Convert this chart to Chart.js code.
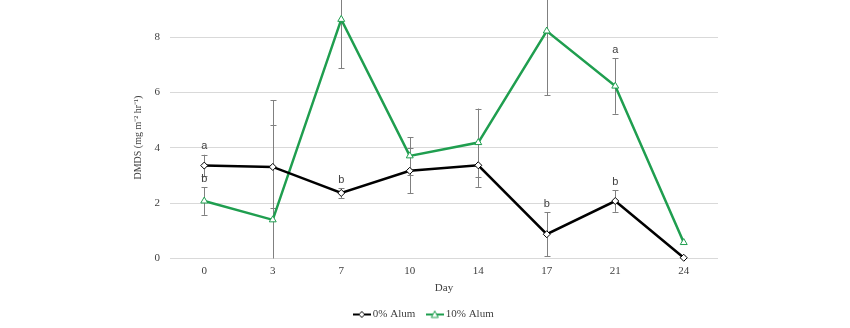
<!DOCTYPE html>
<html>
<head>
<meta charset="utf-8">
<script src="https://cdn.jsdelivr.net/npm/chart.js@4.4.1/dist/chart.umd.min.js"></script>
<style>
  html, body { margin: 0; padding: 0; background: #ffffff; }
  #wrap { width: 850px; height: 328px; position: relative; }
</style>
</head>
<body>
<div id="wrap"><canvas id="c"></canvas></div>
<script>
// Sampling days
const days = ['0', '3', '7', '10', '14', '17', '21', '24'];

// DMDS flux, mg m-2 hr-1
const alum0 = [3.36, 3.31, 2.37, 3.17, 3.37, 0.88, 2.08, 0.03];
const alum10 = [2.08, 1.40, 8.64, 3.71, 4.19, 8.22, 6.23, 0.58];

// Standard error (half-length of each error bar)
const alum0Err = [0.39, 1.50, 0.18, 0.81, 0.78, 0.80, 0.39, 0];
const alum10Err = [0.50, 4.32, 1.77, 0.68, 1.23, 2.32, 1.00, 0];

// Significance letters above the error bars
const alum0Letters = ['a', '', 'b', '', '', 'b', 'b', ''];
const alum10Letters = ['b', '', '', '', '', '', 'a', ''];

const yTicks = [0, 2, 4, 6, 8];

const GREEN = '#1f9e4f';
const SERIF = "'Liberation Serif', 'Times New Roman', serif";

// Legend glyph: short line with the series marker in the middle
function legendGlyph(color, shape) {
  const cv = document.createElement('canvas');
  cv.width = 18; cv.height = 10;
  const g = cv.getContext('2d');
  g.strokeStyle = color; g.lineWidth = 2;
  g.beginPath(); g.moveTo(0, 5); g.lineTo(18, 5); g.stroke();
  g.fillStyle = '#fff'; g.lineWidth = 1;
  g.beginPath();
  if (shape === 'diamond') {
    g.moveTo(9, 2); g.lineTo(12, 5); g.lineTo(9, 8); g.lineTo(6, 5);
  } else {
    g.moveTo(9, 1.5); g.lineTo(12.5, 8); g.lineTo(5.5, 8);
  }
  g.closePath(); g.fill(); g.stroke();
  return cv;
}

const errors = [alum0Err, alum10Err];
const letters = [alum0Letters, alum10Letters];

const errorBars = {
  id: 'errorBars',
  beforeDatasetsDraw(chart) {
    const { ctx, chartArea, scales: { x, y } } = chart;
    ctx.save();
    ctx.beginPath();
    ctx.rect(chartArea.left, 0, chartArea.width, chartArea.bottom);
    ctx.clip();
    ctx.strokeStyle = '#808080';
    ctx.lineWidth = 1;
    chart.data.datasets.forEach((ds, di) => {
      ds.data.forEach((v, i) => {
        const e = errors[di][i];
        if (!e) return;
        const px = Math.round(x.getPixelForValue(i)) + 0.5;
        const yTop = y.getPixelForValue(v + e);
        const yBot = y.getPixelForValue(v - e);
        ctx.beginPath();
        ctx.moveTo(px, yTop); ctx.lineTo(px, yBot);
        ctx.moveTo(px - 3, Math.round(yTop) + 0.5); ctx.lineTo(px + 3, Math.round(yTop) + 0.5);
        ctx.moveTo(px - 3, Math.round(yBot) + 0.5); ctx.lineTo(px + 3, Math.round(yBot) + 0.5);
        ctx.stroke();
      });
    });
    ctx.restore();
  },
  afterDatasetsDraw(chart) {
    const { ctx, scales: { x, y } } = chart;
    ctx.save();
    ctx.fillStyle = '#404040';
    ctx.font = "11px 'Liberation Sans', Arial, sans-serif";
    ctx.textAlign = 'center';
    ctx.textBaseline = 'bottom';
    chart.data.datasets.forEach((ds, di) => {
      ds.data.forEach((v, i) => {
        const t = letters[di][i];
        if (!t) return;
        const px = x.getPixelForValue(i);
        const py = y.getPixelForValue(v + errors[di][i]) - 3;
        ctx.fillText(t, px, py);
      });
    });
    ctx.restore();
  }
};

new Chart(document.getElementById('c'), {
  type: 'line',
  data: {
    labels: days,
    datasets: [
      {
        label: '0% Alum',
        data: alum0,
        borderColor: '#000000',
        borderWidth: 2.5,
        pointStyle: 'rectRot',
        pointRadius: 3.5,
        pointBorderWidth: 1,
        pointBackgroundColor: '#ffffff',
        pointBorderColor: '#000000',
        tension: 0
      },
      {
        label: '10% Alum',
        data: alum10,
        borderColor: GREEN,
        borderWidth: 2.5,
        pointStyle: 'triangle',
        pointRadius: 4,
        pointBorderWidth: 1,
        pointBackgroundColor: '#ffffff',
        pointBorderColor: GREEN,
        tension: 0
      }
    ]
  },
  options: {
    responsive: true,
    maintainAspectRatio: false,
    animation: false,
    clip: false,
    layout: { padding: { left: 132, right: 132, top: 0, bottom: -2 } },
    scales: {
      x: {
        offset: true,
        grid: { display: false, drawTicks: false },
        border: { display: false },
        ticks: { color: '#404040', padding: 6, font: { family: SERIF, size: 11 } },
        title: { display: true, text: 'Day', color: '#404040', padding: { top: -2, bottom: 0 }, font: { family: SERIF, size: 11 } }
      },
      y: {
        min: 0,
        max: 8.74,
        afterBuildTicks(scale) { scale.ticks = yTicks.map(v => ({ value: v })); },
        afterFit(scale) { scale.width = 38; },
        grid: { color: '#d9d9d9', drawTicks: false, lineWidth: 1 },
        border: { display: false },
        ticks: { color: '#404040', padding: 10, font: { family: SERIF, size: 11 } },
        title: { display: true, text: 'DMDS (mg m\u207B\u00B2 hr\u207B\u00B9)', color: '#404040', padding: { top: 0, bottom: 5 }, font: { family: SERIF, size: 10 } }
      }
    },
    plugins: {
      legend: {
        position: 'bottom',
        labels: {
          usePointStyle: true,
          color: '#404040',
          padding: 14,
          font: { family: SERIF, size: 11 },
          generateLabels(chart) {
            return chart.data.datasets.map((ds, i) => ({
              text: ds.label,
              pointStyle: legendGlyph(ds.borderColor, i === 0 ? 'diamond' : 'triangle'),
              fontColor: '#404040',
              datasetIndex: i,
              hidden: false,
              lineWidth: 0,
              strokeStyle: 'transparent',
              fillStyle: 'transparent'
            }));
          }
        }
      },
      tooltip: { enabled: false }
    }
  },
  plugins: [errorBars]
});
</script>
</body>
</html>
